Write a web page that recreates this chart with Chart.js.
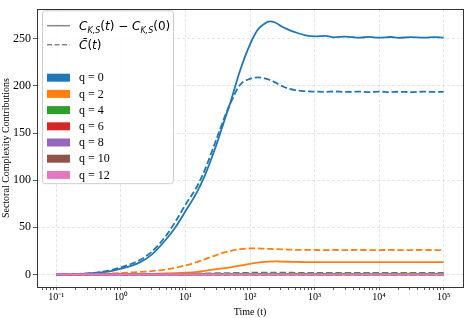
<!DOCTYPE html>
<html>
<head>
<meta charset="utf-8">
<script src="https://cdn.jsdelivr.net/npm/chart.js@4"></script>
<style>
    body { margin: 0; background: #fff; }
    #wrap { width: 468px; height: 318px; }
</style>
</head>
<body>
<div id="wrap"><canvas id="chart"></canvas></div>
<script>
// Time points
const tMain = [0.1, 0.2, 0.3, 0.5, 0.7, 1, 1.5, 2, 3, 5, 7, 10, 15, 20, 30, 40, 50, 70, 100, 130,
    160, 200, 250, 300, 400, 500, 700, 1000, 1500, 2000, 3000, 5000, 7000, 10000, 15000, 20000, 30000, 50000, 70000, 100000];
const tGreen = [0.1, 1, 3, 10, 30, 100, 200, 1000, 100000];
const tFlat = [0.1, 100000];

// q = 0
const q0Ck = [0, 0.3, 0.8, 2, 3.5, 6, 9.5, 13, 21, 37, 50, 67, 87, 105, 137, 163, 183, 216, 244, 259,
    265, 268.5, 267, 263.5, 259.5, 257, 254, 252.5, 253, 251.6, 252.4, 251.3, 252, 251.2, 251.9, 251, 251.7, 251.3, 251.8, 251.2];
const q0Cbar = [0, 0.4, 1.1, 2.7, 4.5, 7.5, 11.5, 15.5, 24, 41, 56, 74, 93, 111, 143, 166, 182, 201, 207.5, 209,
    208.5, 206.5, 203.5, 200.5, 197, 195.5, 194.5, 194, 193.7, 194.1, 193.6, 194, 193.5, 193.9, 193.4, 193.8, 193.5, 193.9, 193.6, 193.7];
// q = 2
const q2Ck = [0, 0, 0.05, 0.1, 0.15, 0.25, 0.35, 0.45, 0.6, 0.9, 1.2, 1.7, 2.6, 3.8, 5.5, 6.6, 7.5, 9.3, 11.2, 12.4,
    13.2, 13.6, 13.7, 13.6, 13.4, 13.2, 13.1, 13, 12.9, 13, 12.9, 12.9, 13, 12.9, 12.9, 12.9, 13, 12.9, 12.9, 12.9];
const q2Cbar = [0, 0.1, 0.3, 0.6, 1, 1.5, 2.1, 2.6, 3.5, 5.3, 7, 9.5, 13, 16, 20.5, 23.3, 25, 26.8, 27.5, 27.5,
    27.3, 27, 26.8, 26.6, 26.3, 26.1, 26, 25.9, 25.8, 25.9, 25.8, 25.9, 25.8, 25.8, 25.9, 25.8, 25.8, 25.9, 25.8, 25.8];
// q = 4
const q4Ck = [0, 0, 0.05, 0.1, 0.2, 0.3, 0.35, 0.3, 0.3];
const q4Cbar = [0, 0.1, 0.3, 0.7, 1.2, 1.7, 1.8, 1.6, 1.6];
// q = 6 .. 12 stay at zero
const qZero = [0, 0];

const qLabels = ["q = 0", "q = 2", "q = 4", "q = 6", "q = 8", "q = 10", "q = 12"];
const colors = ["#1f77b4", "#ff7f0e", "#2ca02c", "#d62728", "#9467bd", "#8c564b", "#e377c2"];

const xTicks = [0.1, 1, 10, 100, 1000, 10000, 100000];
const xTickLabels = ["10\u207B\u00B9", "10\u2070", "10\u00B9", "10\u00B2", "10\u00B3", "10\u2074", "10\u2075"];
const yTicks = [0, 50, 100, 150, 200, 250];

const series = [
    [tMain, q0Ck, q0Cbar],
    [tMain, q2Ck, q2Cbar],
    [tGreen, q4Ck, q4Cbar],
    [tFlat, qZero, qZero],
    [tFlat, qZero, qZero],
    [tFlat, qZero, qZero],
    [tFlat, qZero, qZero]
];

const pts = (t, v) => t.map((x, i) => ({ x, y: v[i] }));
const datasets = [];
series.forEach(([t, ck, cbar], i) => {
    datasets.push({ data: pts(t, ck), borderColor: colors[i], borderWidth: 1.8, label: qLabels[i] });
    datasets.push({ data: pts(t, cbar), borderColor: colors[i], borderWidth: 1.8, borderDash: [6.5, 2.8], label: qLabels[i] });
});
datasets.forEach((d, i) => {
    d.order = -i;
    d.pointRadius = 0;
    d.fill = false;
    d.cubicInterpolationMode = "monotone";
});

const serif = '"Liberation Serif", "Times New Roman", serif';

// Frame round the plot area, like matplotlib spines
const framePlugin = {
    id: "frame",
    afterDraw(chart) {
        const { ctx, chartArea: a } = chart;
        ctx.save();
        ctx.strokeStyle = "#333";
        ctx.lineWidth = 1;
        ctx.strokeRect(Math.round(a.left) + 0.5, Math.round(a.top) + 0.5, Math.round(a.right - a.left), Math.round(a.bottom - a.top));
        ctx.restore();
    }
};

// Draw text made of runs with different fonts / offsets
const drawRuns = (ctx, x, y, runs) => {
    for (const r of runs) {
        ctx.font = r.f;
        ctx.fillText(r.t, x, y + (r.dy || 0));
        x += ctx.measureText(r.t).width;
    }
};

const legendPlugin = {
    id: "boxLegend",
    afterDraw(chart) {
        const { ctx, chartArea: a } = chart;
        const x0 = a.left + 5, y0 = a.top + 1, w = 131, h = 173;
        ctx.save();
        ctx.fillStyle = "rgba(255,255,255,0.85)";
        ctx.strokeStyle = "#cccccc";
        ctx.lineWidth = 1;
        ctx.beginPath();
        ctx.roundRect(x0 + 0.5, y0 + 0.5, w, h, 3);
        ctx.fill();
        ctx.stroke();

        const hx = x0 + 5, hw = 23, tx = x0 + 37;
        // line entries
        ctx.strokeStyle = "#888";
        ctx.lineWidth = 1.5;
        ctx.beginPath(); ctx.moveTo(hx, y0 + 15.5); ctx.lineTo(hx + hw, y0 + 15.5); ctx.stroke();
        ctx.setLineDash([5, 2.5]);
        ctx.beginPath(); ctx.moveTo(hx, y0 + 34.5); ctx.lineTo(hx + hw, y0 + 34.5); ctx.stroke();
        ctx.setLineDash([]);

        ctx.fillStyle = "#000";
        ctx.textBaseline = "alphabetic";
        const it = 'italic 12px "DejaVu Sans"', rm = '12px "DejaVu Sans"', sub = 'italic 8px "DejaVu Sans"';
        drawRuns(ctx, tx, y0 + 20, [
            { t: "C", f: it }, { t: "K,S", f: sub, dy: 2.5 }, { t: "(", f: rm }, { t: "t", f: it }, { t: ") \u2212 ", f: rm },
            { t: "C", f: it }, { t: "K,S", f: sub, dy: 2.5 }, { t: "(0)", f: rm }
        ]);
        drawRuns(ctx, tx, y0 + 39, [
            { t: "C\u0304", f: it }, { t: "(", f: rm }, { t: "t", f: it }, { t: ")", f: rm }
        ]);

        // colour patches
        ctx.font = "12px " + serif;
        ctx.textBaseline = "middle";
        qLabels.forEach((lab, i) => {
            const cy = y0 + 67.5 + i * 16.2;
            ctx.fillStyle = colors[i];
            ctx.fillRect(hx, cy - 4, hw, 8);
            ctx.fillStyle = "#000";
            ctx.fillText(lab, tx, cy + 0.5);
        });
        ctx.restore();
    }
};

const gridColor = (c) => (c.tick && c.tick.major === false) ? "rgba(0,0,0,0)" : "#dddddd";

new Chart(document.getElementById("chart"), {
    type: "line",
    data: { datasets },
    plugins: [framePlugin, legendPlugin],
    options: {
        responsive: true,
        maintainAspectRatio: false,
        animation: false,
        layout: { padding: { top: 4, right: 5, left: 0, bottom: 0 } },
        plugins: { legend: { display: false }, tooltip: { enabled: false } },
        scales: {
            x: {
                type: "logarithmic",
                min: Math.pow(10, -1.3),
                max: Math.pow(10, 5.3),
                afterBuildTicks: (scale) => {
                    const ticks = xTicks.map(v => ({ value: v, major: true }));
                    for (let d = -2; d <= 5; d++) {
                        for (let m = 2; m <= 9; m++) {
                            const v = m * Math.pow(10, d);
                            if (v > scale.min && v < scale.max) ticks.push({ value: v, major: false });
                        }
                    }
                    ticks.sort((a, b) => a.value - b.value);
                    scale.ticks = ticks;
                },
                afterFit: (scale) => { scale.height = 31; },
                ticks: {
                    autoSkip: false,
                    maxRotation: 0,
                    padding: 1,
                    color: "#000",
                    font: { family: serif, size: 10 },
                    callback: (v, i, ticks) => {
                        const k = xTicks.indexOf(ticks[i].value);
                        return k >= 0 ? xTickLabels[k] : "";
                    }
                },
                grid: { color: gridColor, lineWidth: 0.8, tickColor: "#333", tickLength: 3, tickWidth: 0.8, tickBorderDash: [] },
                border: { display: false, dash: [3, 2] },
                title: { display: true, text: "Time (t)", color: "#000", font: { family: serif, size: 10 }, padding: { top: 1, bottom: 0 } }
            },
            y: {
                type: "linear",
                min: -13.4,
                max: 281.4,
                afterBuildTicks: (scale) => { scale.ticks = yTicks.map(v => ({ value: v })); },
                afterFit: (scale) => { scale.width = 37; },
                ticks: { color: "#000", padding: 2, font: { family: serif, size: 12 } },
                grid: { color: "#dddddd", lineWidth: 0.8, tickColor: "#333", tickLength: 4, tickWidth: 0.8, tickBorderDash: [] },
                border: { display: false, dash: [3, 2] },
                title: { display: true, text: "Sectoral Complexity Contributions", color: "#000", font: { family: serif, size: 10 }, padding: 0 }
            }
        }
    }
});
</script>
</body>
</html>
